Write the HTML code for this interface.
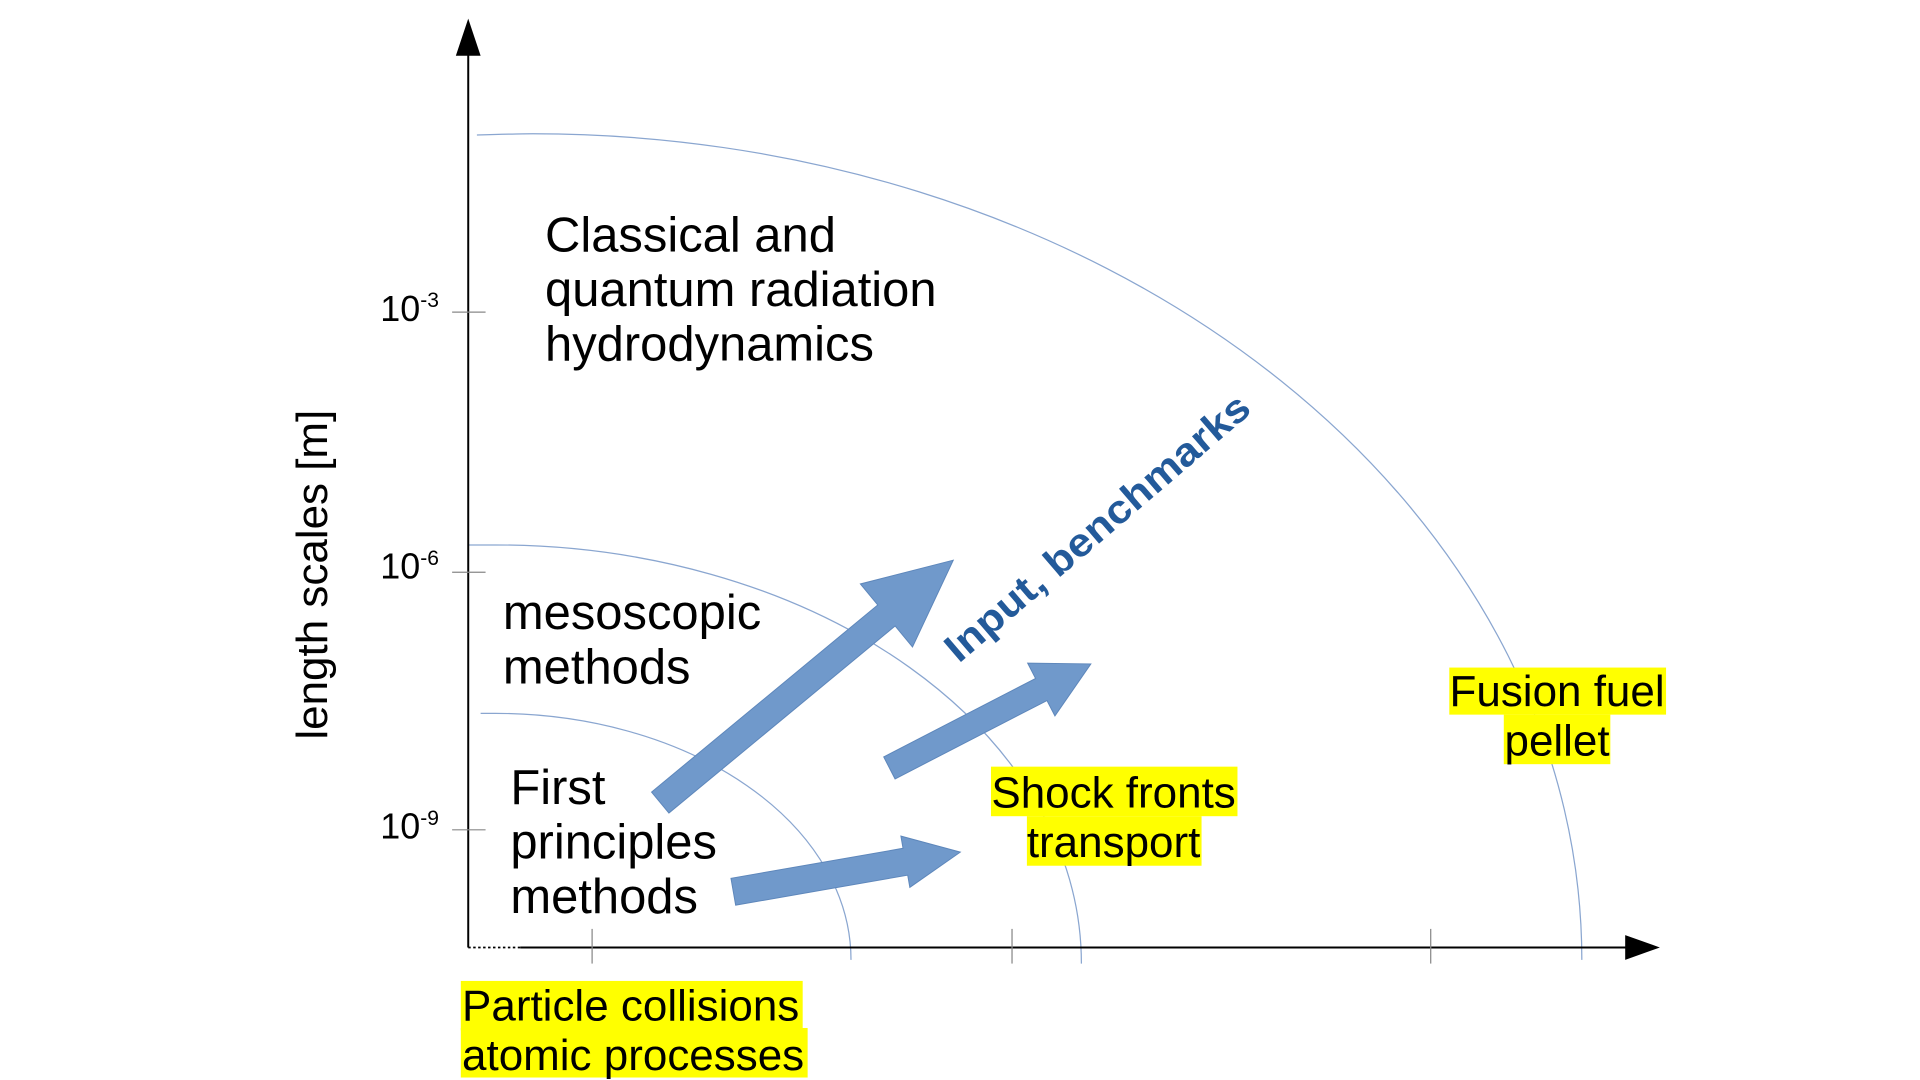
<!DOCTYPE html>
<html><head><meta charset="utf-8"><style>
html,body{margin:0;padding:0;background:#fff;width:1920px;height:1080px;overflow:hidden}
svg{display:block}
text{font-family:"Liberation Sans",sans-serif}
</style></head><body>
<svg width="1920" height="1080" viewBox="0 0 1550 872" preserveAspectRatio="none" xmlns="http://www.w3.org/2000/svg">
<g fill="none" stroke="#8aa6d0" stroke-width="1">
<path d="M385 109 Q420 108 430 108 A847 667 0 0 1 1277 775"/>
<path d="M378 440 L400 440 A473 338 0 0 1 873 778"/>
<path d="M388 576 L400 576 A287 199 0 0 1 687 775"/>
</g>
<g stroke="#000" stroke-width="1.6">
<line x1="378" y1="40" x2="378" y2="765"/>
<line x1="420" y1="765" x2="1315" y2="765"/>
</g>
<line x1="378" y1="765" x2="420" y2="765" stroke="#000" stroke-width="1.4" stroke-dasharray="2,2"/>
<polygon points="378,15 368,45 388,45" fill="#000"/>
<polygon points="1340,765 1312,755 1312,775" fill="#000"/>
<g stroke="#888" stroke-width="1">
<line x1="365" y1="252" x2="392" y2="252"/>
<line x1="365" y1="462" x2="392" y2="462"/>
<line x1="365" y1="670" x2="392" y2="670"/>
<line x1="478" y1="750" x2="478" y2="778"/>
<line x1="817" y1="750" x2="817" y2="778"/>
<line x1="1155" y1="750" x2="1155" y2="778"/>
</g>
<g font-size="29" fill="#000">
<text x="307" y="259">10<tspan font-size="17" dy="-11">-3</tspan></text>
<text x="307" y="467">10<tspan font-size="17" dy="-11">-6</tspan></text>
<text x="307" y="677">10<tspan font-size="17" dy="-11">-9</tspan></text>
</g>
<text transform="translate(264,464) rotate(-90)" text-anchor="middle" font-size="35.5" fill="#000">length scales [m]</text>
<g font-size="39.5" fill="#000">
<text x="440" y="203">Classical and</text>
<text x="440" y="247">quantum radiation</text>
<text x="440" y="291">hydrodynamics</text>
<text x="406" y="508">mesoscopic</text>
<text x="406" y="552">methods</text>
<text x="412" y="649">First</text>
<text x="412" y="693">principles</text>
<text x="412" y="737">methods</text>
</g>
<g fill="#ffff00">
<rect x="1170" y="539" width="175" height="38"/>
<rect x="1214" y="577" width="86" height="40"/>
<rect x="800" y="619" width="199" height="40"/>
<rect x="829" y="659" width="141" height="40"/>
<rect x="372" y="792" width="276" height="40"/>
<rect x="372" y="830" width="280" height="40"/>
</g>
<g font-size="35.5" fill="#000">
<text x="1257" y="570" text-anchor="middle">Fusion fuel</text>
<text x="1257" y="610" text-anchor="middle">pellet</text>
<text x="899" y="652" text-anchor="middle">Shock fronts</text>
<text x="899" y="692" text-anchor="middle">transport</text>
<text x="373" y="824">Particle collisions</text>
<text x="373" y="864">atomic processes</text>
</g>
<g fill="#7099cb" stroke="#5e87bb" stroke-width="0.8">
<polygon transform="translate(533,648) rotate(-39.6)" points="0,-11 237,-11 237,-33 307,0 237,33 237,11 0,11"/>
<polygon transform="translate(718,620) rotate(-27.3)" points="0,-10 138,-10 138,-24 183,0 138,24 138,10 0,10"/>
<polygon transform="translate(592,720) rotate(-9.9)" points="0,-11 141,-11 141,-21 186,0 141,21 141,11 0,11"/>
</g>
<text transform="translate(774,536) rotate(-40.6)" font-size="32" font-weight="bold" fill="#235a9a" textLength="313" lengthAdjust="spacingAndGlyphs">Input, benchmarks</text>
</svg>
</body></html>
